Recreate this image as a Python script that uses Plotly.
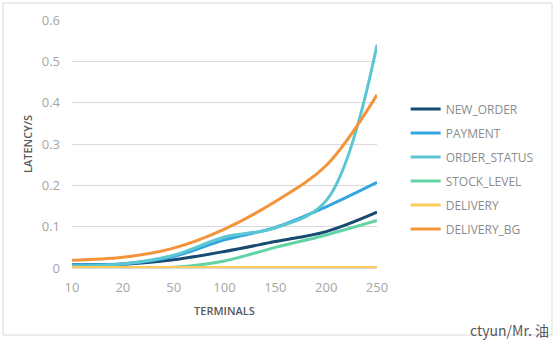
import plotly.graph_objects as go

terminals = ["10", "20", "50", "100", "150", "200", "250"]
new_order = [0.008, 0.009, 0.020, 0.040, 0.064, 0.088, 0.135]
payment = [0.008, 0.010, 0.028, 0.068, 0.098, 0.148, 0.207]
order_status = [0.005, 0.010, 0.031, 0.075, 0.097, 0.163, 0.540]
stock_level = [0.002, 0.002, 0.002, 0.017, 0.050, 0.080, 0.115]
delivery = [0.001, 0.001, 0.001, 0.001, 0.001, 0.001, 0.001]
delivery_bg = [0.019, 0.026, 0.048, 0.094, 0.161, 0.248, 0.419]

series = [
    ("NEW_ORDER", new_order, "#174A72"),
    ("PAYMENT", payment, "#33A5DF"),
    ("ORDER_STATUS", order_status, "#5CC6D3"),
    ("STOCK_LEVEL", stock_level, "#63D3A5"),
    ("DELIVERY", delivery, "#FCCB5E"),
    ("DELIVERY_BG", delivery_bg, "#F4943A"),
]

fig = go.Figure()
for i, (name, vals, col) in enumerate(series):
    fig.add_trace(go.Scatter(
        x=terminals, y=vals, name=name, mode="lines",
        line=dict(color=col, width=3, shape="spline", smoothing=1.0),
        legendgroup=f"g{i}",
    ))

fig.update_layout(
    width=554, height=340,
    margin=dict(l=72, r=177, t=20, b=72),
    paper_bgcolor="white", plot_bgcolor="white",
    font=dict(family="Open Sans, Noto Sans, sans-serif", color="#A6A6A6"),
    xaxis=dict(
        type="category", range=[0, 6], showgrid=False,
        showline=True, linecolor="#D9D9D9", linewidth=1,
        tickfont=dict(size=13, color="#A6A6A6"), ticks="",
        ticklabelstandoff=7,
        title=dict(text="TERMINALS", font=dict(size=11, color="#595959", weight=600), standoff=12),
        zeroline=False, automargin=False,
    ),
    yaxis=dict(
        range=[0, 0.6], dtick=0.1,
        showgrid=True, gridcolor="#D9D9D9", gridwidth=1,
        zeroline=False, showline=False,
        tickfont=dict(size=13, color="#A6A6A6"), ticks="",
        ticklabelstandoff=11,
        title=dict(text="LATENCY/S", font=dict(size=11, color="#595959", weight=600), standoff=6),
        automargin=False,
    ),
    legend=dict(
        x=1.094, y=0.70, xanchor="left", yanchor="top",
        font=dict(size=12, color="#8C8C8C"),
        tracegroupgap=5, bgcolor="rgba(0,0,0,0)",
    ),
    showlegend=True,
)

fig.add_shape(type="rect", xref="paper", yref="paper",
              x0=(3 - 72) / 305, x1=(552 - 72) / 305,
              y0=(268 - 335) / 248, y1=(268 - 3) / 248,
              line=dict(color="#D9D9D9", width=1), fillcolor="rgba(0,0,0,0)", layer="below")

fig.add_annotation(text="ctyun/Mr. 油", xref="paper", yref="paper",
                   x=(551 - 72) / 305, y=(268 - 330) / 248, xanchor="right", yanchor="middle",
                   showarrow=False,
                   font=dict(size=14, color="#595959", family="Noto Sans CJK SC, Open Sans, sans-serif"))

fig.write_html("out.html")
